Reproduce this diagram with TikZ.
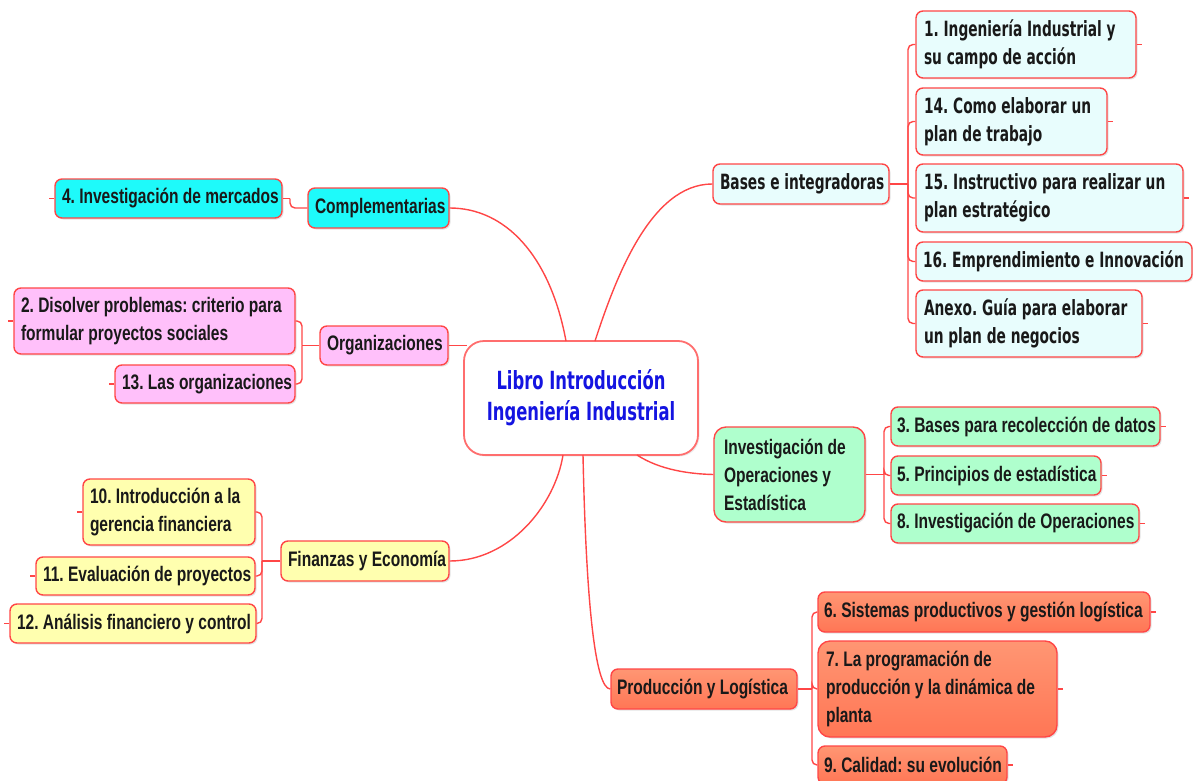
\documentclass[tikz,border=0pt]{standalone}
\usepackage{fontspec}
\usetikzlibrary{shadows}
% condensed faces for the topic labels
\newfontfamily\narrowsans[FakeStretch=0.74]{Liberation Sans}
\newfontfamily\widesans[FakeStretch=0.655]{DejaVu Sans}
\definecolor{edge}{RGB}{255,70,70}
\definecolor{hubedge}{RGB}{255,110,110}
\definecolor{ink}{RGB}{25,25,25}
\definecolor{hubink}{RGB}{20,20,225}
\definecolor{cyanfill}{RGB}{30,250,250}
\definecolor{pinkfill}{RGB}{255,192,250}
\definecolor{yellowfill}{RGB}{255,255,175}
\definecolor{icefill}{RGB}{232,253,253}
\definecolor{mintfill}{RGB}{175,255,205}
\definecolor{coraltop}{RGB}{255,150,115}
\definecolor{coralbot}{RGB}{255,118,85}
\begin{document}
\begin{tikzpicture}[x=1pt,y=-1pt,
  topic/.style={draw=edge, line width=1.4pt, rounded corners=7pt,
    inner xsep=7pt, inner ysep=0pt, align=left, text=ink,
    execute at begin node={\spaceskip=0pt\xspaceskip=0pt\frenchspacing},
    drop shadow={shadow xshift=1.5pt, shadow yshift=-1.5pt, opacity=0.22}},
  fa/.style={font=\narrowsans\bfseries\fontsize{21pt}{28pt}\selectfont},
  fv/.style={font=\widesans\bfseries\fontsize{21pt}{28pt}\selectfont},
  coral/.style={top color=coraltop, bottom color=coralbot},
  link/.style={draw=edge, line width=1.4pt},
  bracket/.style={link, rounded corners=5pt},
  stub/.style={draw=edge, line width=1.2pt}
]
\useasboundingbox (0,0) rectangle (1193,781);

% central topic
\node[draw=hubedge, line width=1.8pt, rounded corners=20pt, fill=white,
  minimum width=234pt, minimum height=114pt, align=center, text=hubink,
  font=\widesans\bfseries\fontsize{25pt}{31pt}\selectfont,
  drop shadow={shadow xshift=1.5pt, shadow yshift=-1.5pt, opacity=0.15}]
  (cen) at (581,398) {Libro Introducción\\Ingeniería Industrial};

% ---- left: Complementarias
\node[topic, fa, fill=cyanfill, minimum width=141pt, minimum height=40pt, text width=127pt, inner xsep=5pt]
  (comp) at (378.5,208) {\mbox{Complementarias}};
\node[topic, fa, fill=cyanfill, minimum width=227pt, minimum height=39pt, text width=213pt]
  (m4) at (168.5,198.5) {\mbox{4. Investigación de mercados}};

% ---- left: Organizaciones
\node[topic, fa, fill=pinkfill, minimum width=128pt, minimum height=39pt, text width=114pt]
  (org) at (384,345.5) {\mbox{Organizaciones}};
\node[topic, fa, fill=pinkfill, minimum width=281pt, minimum height=66pt, text width=267pt]
  (d2) at (154.5,321) {\mbox{2. Disolver problemas: criterio para}\\\mbox{formular proyectos sociales}};
\node[topic, fa, fill=pinkfill, minimum width=180pt, minimum height=38pt, text width=166pt]
  (o13) at (205,384) {\mbox{13. Las organizaciones}};

% ---- left: Finanzas y Economía
\node[topic, fa, fill=yellowfill, minimum width=168pt, minimum height=40pt, text width=154pt]
  (fin) at (365,561) {\mbox{Finanzas y Economía}};
\node[topic, fa, fill=yellowfill, minimum width=172pt, minimum height=66pt, text width=158pt]
  (f10) at (169,512) {\mbox{10. Introducción a la}\\\mbox{gerencia financiera}};
\node[topic, fa, fill=yellowfill, minimum width=219pt, minimum height=38pt, text width=205pt]
  (f11) at (145.5,576) {\mbox{11. Evaluación de proyectos}};
\node[topic, fa, fill=yellowfill, minimum width=246pt, minimum height=39pt, text width=232pt]
  (f12) at (133,623.5) {\mbox{12. Análisis financiero y control}};

% ---- right: Bases e integradoras
\node[topic, fv, fill=icefill, minimum width=176pt, minimum height=40pt, text width=162pt]
  (bas) at (801,184) {\mbox{Bases e integradoras}};
\node[topic, fv, fill=icefill, minimum width=220pt, minimum height=67pt, text width=204pt, inner xsep=8pt]
  (b1) at (1026,44.5) {\mbox{1. Ingeniería Industrial y}\\\mbox{su campo de acción}};
\node[topic, fv, fill=icefill, minimum width=191pt, minimum height=67pt, text width=175pt, inner xsep=8pt]
  (b14) at (1011.5,121.5) {\mbox{14. Como elaborar un}\\\mbox{plan de trabajo}};
\node[topic, fv, fill=icefill, minimum width=267pt, minimum height=68pt, text width=251pt, inner xsep=8pt]
  (b15) at (1049.5,198) {\mbox{15. Instructivo para realizar un}\\\mbox{plan estratégico}};
\node[topic, fv, fill=icefill, minimum width=276pt, minimum height=39pt, text width=262pt]
  (b16) at (1054,261.5) {\mbox{16. Emprendimiento e Innovación}};
\node[topic, fv, fill=icefill, minimum width=226pt, minimum height=67pt, text width=210pt, inner xsep=8pt]
  (anx) at (1029,323.5) {\mbox{Anexo. Guía para elaborar}\\\mbox{un plan de negocios}};

% ---- right: Investigación de Operaciones y Estadística
\node[topic, fa, fill=mintfill, rounded corners=12pt, minimum width=151pt, minimum height=95pt, text width=131pt, inner xsep=10pt]
  (inv) at (789.5,474.5) {\mbox{Investigación de}\\\mbox{Operaciones y}\\\mbox{Estadística}};
\node[topic, fa, fill=mintfill, minimum width=269pt, minimum height=39pt, text width=257pt, inner xsep=6pt]
  (i3) at (1025.5,426.5) {\mbox{3. Bases para recolección de datos}};
\node[topic, fa, fill=mintfill, minimum width=210pt, minimum height=39pt, text width=198pt, inner xsep=6pt]
  (i5) at (996,475.5) {\mbox{5. Principios de estadística}};
\node[topic, fa, fill=mintfill, minimum width=248pt, minimum height=39pt, text width=236pt, inner xsep=6pt]
  (i8) at (1015,523.5) {\mbox{8. Investigación de Operaciones}};

% ---- right: Producción y Logística
\node[topic, fa, coral, minimum width=186pt, minimum height=40pt, text width=174pt, inner xsep=6pt]
  (pro) at (704,689) {\mbox{Producción y Logística}};
\node[topic, fa, coral, minimum width=332pt, minimum height=40pt, text width=320pt, inner xsep=6pt]
  (p6) at (984,612) {\mbox{6. Sistemas productivos y gestión logística}};
\node[topic, fa, coral, rounded corners=12pt, minimum width=239pt, minimum height=96pt, text width=223pt, inner xsep=8pt]
  (p7) at (937.5,689) {\mbox{7. La programación de}\\\mbox{producción y la dinámica de}\\\mbox{planta}};
\node[topic, fa, coral, minimum width=189pt, minimum height=38pt, text width=177pt, inner xsep=6pt]
  (p9) at (912.5,765) {\mbox{9. Calidad: su evolución}};

% attachment points on the central topic
\coordinate (cT1) at (566,341);
\coordinate (cT2) at (595,341);
\coordinate (cB1) at (563,455);
\coordinate (cB2) at (583,455);
\coordinate (cB3) at (637,455);
\coordinate (cL)  at (467,345.5);

% main branches
\draw[link] (comp.east) .. controls (505,208) and (550,255) .. (cT1);
\draw[link] (cT2) .. controls (615,280) and (650,184) .. (bas.west);
\draw[link] (org.east) -- (cL);
\draw[link] (fin.east) .. controls (510,561) and (555,505) .. (cB1);
\draw[link] (cB2) .. controls (586,600) and (595,689) .. (pro.west);
\draw[link] (cB3) .. controls (660,470) and (690,474) .. (inv.west);

% sub-topic brackets
\coordinate (jc) at (290,198.5);
\draw[link] (m4.east) -- (jc);
\draw[bracket] (jc) |- (comp.west);

\coordinate (jo) at (302,345.5);
\draw[link] (org.west) -- (jo);
\foreach \c in {d2,o13} \draw[bracket] (jo) |- (\c.east);

\coordinate (jf) at (262,561);
\draw[link] (fin.west) -- (jf);
\foreach \c in {f10,f11,f12} \draw[bracket] (jf) |- (\c.east);

\coordinate (jb) at (908,184);
\draw[link] (bas.east) -- (jb);
\foreach \c in {b1,b14,b15,b16,anx} \draw[bracket] (jb) |- (\c.west);

\coordinate (ji) at (884,474.5);
\draw[link] (inv.east) -- (ji);
\foreach \c in {i3,i5,i8} \draw[bracket] (ji) |- (\c.west);

\coordinate (jp) at (812,689);
\draw[link] (pro.east) -- (jp);
\foreach \c in {p6,p7,p9} \draw[bracket] (jp) |- (\c.west);

% collapse marks on the outer side of the leaf topics
\foreach \c in {m4,d2,o13,f10,f11,f12} \draw[stub] (\c.west) -- ++(-5,0);
\foreach \c in {b1,b14,b15,anx,i3,i5,i8,p6,p7,p9} \draw[stub] (\c.east) -- ++(5,0);
\end{tikzpicture}
\end{document}
